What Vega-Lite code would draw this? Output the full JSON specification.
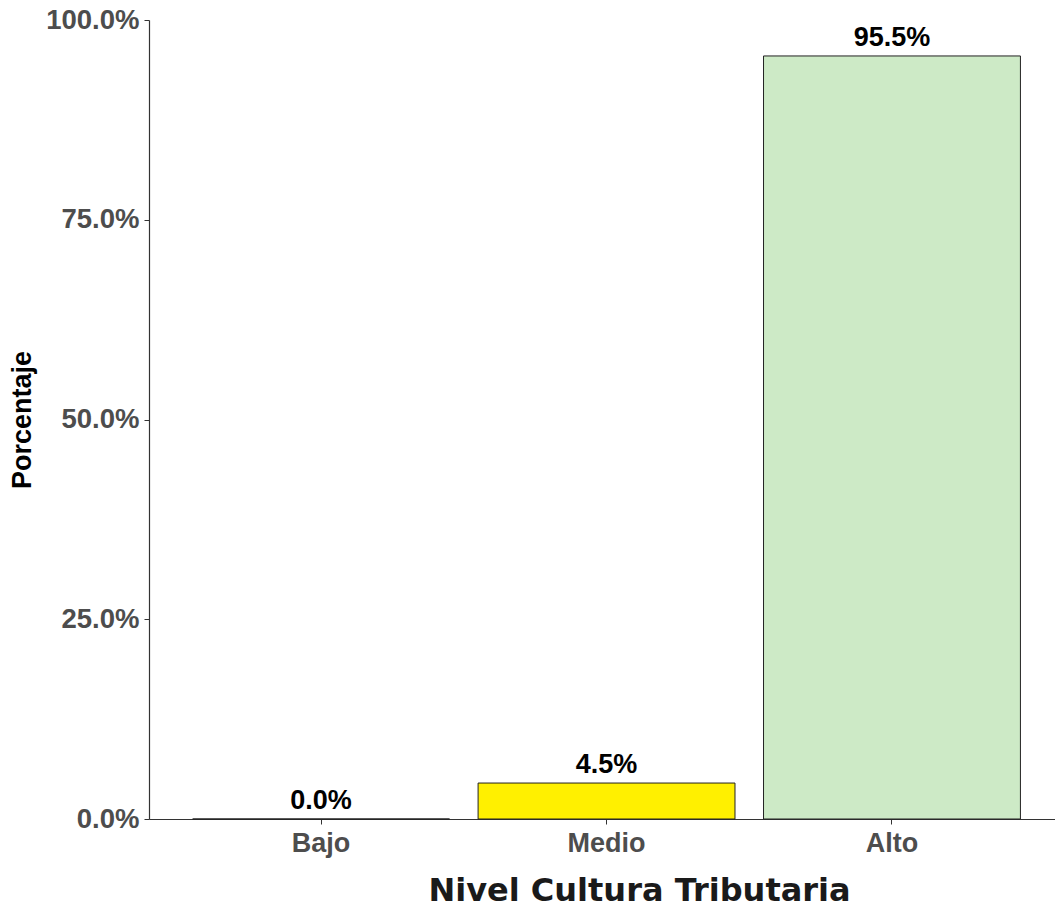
{
  "$schema": "https://vega.github.io/schema/vega-lite/v6.json",
  "autosize": "none",
  "width": 906,
  "height": 799,
  "padding": {"left": 149, "top": 20, "right": 0, "bottom": 94},
  "background": "white",
  "config": {"view": {"stroke": null}, "font": "Liberation Sans"},
  "data": {"values": [
    {"nivel": "Bajo", "pct": 0.0},
    {"nivel": "Medio", "pct": 0.045},
    {"nivel": "Alto", "pct": 0.955}
  ]},
  "encoding": {
    "x": {"field": "nivel", "type": "nominal", "sort": ["Bajo", "Medio", "Alto"],
      "scale": {"paddingInner": 0.1, "paddingOuter": 0.137, "align": 0.558},
      "axis": {"title": "Nivel Cultura Tributaria", "labelAngle": 0,
        "labelFont": "Liberation Sans", "labelFontSize": 27, "labelFontWeight": "bold", "labelColor": "#4D4D4D",
        "labelPadding": 6, "tickSize": 5, "tickColor": "#333333", "domainColor": "#333333", "domainWidth": 1.2,
        "titleFont": "DejaVu Sans", "titleFontSize": 32, "titleFontWeight": "bold", "titleColor": "#1a1a1a",
        "titlePadding": 19, "titleX": 490, "titleAlign": "center", "grid": false}},
    "y": {"field": "pct", "type": "quantitative",
      "scale": {"domain": [0, 1], "nice": false},
      "axis": {"title": "Porcentaje", "format": ".1%", "values": [0, 0.25, 0.5, 0.75, 1],
        "labelFont": "Liberation Sans", "labelFontSize": 27.5, "labelFontWeight": "bold", "labelColor": "#4D4D4D",
        "labelPadding": 5, "tickSize": 5, "tickColor": "#333333", "domainColor": "#333333", "domainWidth": 1.2,
        "titleFont": "Liberation Sans", "titleFontSize": 27, "titleFontWeight": "bold", "titleColor": "#000000",
        "titlePadding": 9, "grid": false}}
  },
  "layer": [
    {"mark": {"type": "bar", "stroke": "#222222", "strokeWidth": 1},
     "encoding": {"color": {"field": "nivel", "type": "nominal",
       "scale": {"domain": ["Bajo", "Medio", "Alto"], "range": ["#F8766D", "#FFF000", "#CDEAC6"]}, "legend": null}}},
    {"mark": {"type": "text", "baseline": "alphabetic", "dy": -10, "font": "Liberation Sans", "fontSize": 27, "fontWeight": "bold", "color": "#000000"},
     "encoding": {"text": {"field": "pct", "type": "quantitative", "format": ".1%"}}}
  ]
}
